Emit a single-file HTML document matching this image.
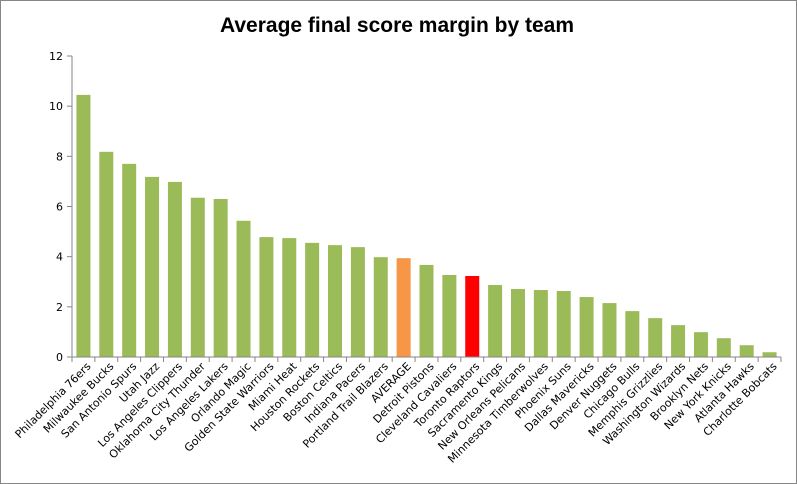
<!DOCTYPE html>
<html><head><meta charset="utf-8"><style>
html,body{margin:0;padding:0;background:#fff;}
svg{display:block;font-family:"Liberation Sans",sans-serif;}
</style></head><body>
<svg id="chart" width="797" height="484">
<rect x="0.5" y="0.5" width="796" height="483" fill="#fff" stroke="#868686"/>
<text x="397" y="32" text-anchor="middle" font-size="21" font-weight="bold" fill="#000">Average final score margin by team</text>
<g id="plot"></g>
</svg>
<script>
const teams = ["Philadelphia 76ers","Milwaukee Bucks","San Antonio Spurs","Utah Jazz","Los Angeles Clippers","Oklahoma City Thunder","Los Angeles Lakers","Orlando Magic","Golden State Warriors","Miami Heat","Houston Rockets","Boston Celtics","Indiana Pacers","Portland Trail Blazers","AVERAGE","Detroit Pistons","Cleveland Cavaliers","Toronto Raptors","Sacramento Kings","New Orleans Pelicans","Minnesota Timberwolves","Phoenix Suns","Dallas Mavericks","Denver Nuggets","Chicago Bulls","Memphis Grizzlies","Washington Wizards","Brooklyn Nets","New York Knicks","Atlanta Hawks","Charlotte Bobcats"];
const margins = [10.45,8.18,7.7,7.18,6.98,6.35,6.3,5.43,4.78,4.74,4.55,4.46,4.38,3.98,3.94,3.67,3.27,3.23,2.87,2.71,2.67,2.63,2.39,2.15,1.83,1.55,1.27,0.99,0.75,0.47,0.19];
const yTicks = [0,2,4,6,8,10,12];
const colors = {"AVERAGE":"#f79646","Toronto Raptors":"#ff0000"};

const X0=72, X1=781, Y0=357, Y1=56, YMAX=12;
const NS="http://www.w3.org/2000/svg";
const FONT='"DejaVu Sans",sans-serif';
const g=document.getElementById('plot');
const step=(X1-X0)/teams.length, bw=14;
const y=v=>Y0-(v/YMAX)*(Y0-Y1);
const xc=i=>X0+step*(i+0.5);
function mk(t,a){const e=document.createElementNS(NS,t);for(const k in a)e.setAttribute(k,a[k]);g.appendChild(e);return e;}
yTicks.forEach(t=>{
  const l=mk('line',{x1:X0-5,x2:X0,y1:y(t),y2:y(t),stroke:'#868686'});
  
  
  const tx=mk('text',{x:X0-9,y:y(t)+4,'text-anchor':'end','font-size':11,fill:'#000','font-family':FONT});
  tx.textContent=t;
  
  
});
margins.forEach((v,i)=>{
  const r=mk('rect',{x:xc(i)-bw/2,y:y(v),width:bw,height:Y0-y(v),fill:colors[teams[i]]||'#9bbb59'});
  
  
  const tx=mk('text',{x:0,y:0,'text-anchor':'end','font-size':11,fill:'#000','font-family':FONT,transform:`translate(${xc(i)+8},${Y0+10}) rotate(-45)`});
  tx.textContent=teams[i];
  
  
});
for(let i=0;i<=teams.length;i++){
  const l=mk('line',{x1:X0+step*i,x2:X0+step*i,y1:Y0,y2:Y0+5,stroke:'#868686'});
  
  
}
const ya=mk('line',{x1:X0,x2:X0,y1:Y1,y2:Y0,stroke:'#868686'});


const xa=mk('line',{x1:X0,x2:X1,y1:Y0,y2:Y0,stroke:'#868686'});


</script>
</body></html>
